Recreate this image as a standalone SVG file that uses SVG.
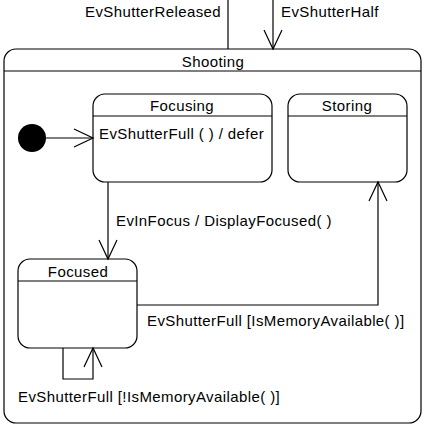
<svg xmlns="http://www.w3.org/2000/svg" width="425" height="426" viewBox="0 0 425 426">
<defs>
<style>
.st{fill:#fff;stroke:#000;stroke-width:1.2}
.ln{fill:none;stroke:#000;stroke-width:1.2}
text{font-family:"Liberation Sans",Arial,sans-serif;font-size:15px;letter-spacing:0.4px;fill:#000}
.c{text-anchor:middle}
</style>
<marker id="open" markerUnits="userSpaceOnUse" markerWidth="24" markerHeight="24" viewBox="-20 -12 22 24" refX="0" refY="0" orient="auto">
<path d="M-19,-9 L0,0 L-19,9" fill="none" stroke="#000" stroke-width="1.2"/>
</marker>
</defs>
<rect width="425" height="426" fill="#fff"/>
<g id="Shooting">
<rect class="st" x="4" y="49" width="417" height="374" rx="12" ry="12"/>
<line class="ln" x1="4" y1="71" x2="421" y2="71"/>
<text class="c" x="213" y="67">Shooting</text>
</g>
<g id="Initial">
<circle cx="32" cy="138" r="14" fill="#000"/>
</g>
<g id="Focusing">
<rect class="st" x="93" y="94" width="179" height="88" rx="12" ry="12"/>
<line class="ln" x1="93" y1="116" x2="272" y2="116"/>
<text class="c" x="182" y="111">Focusing</text>
<text x="99" y="139">EvShutterFull ( ) / defer</text>
</g>
<g id="Storing">
<rect class="st" x="288" y="94" width="119" height="88" rx="12" ry="12"/>
<line class="ln" x1="288" y1="116" x2="407" y2="116"/>
<text class="c" x="347" y="111">Storing</text>
</g>
<g id="Focused">
<rect class="st" x="18" y="259" width="119" height="89" rx="12" ry="12"/>
<line class="ln" x1="18" y1="281" x2="137" y2="281"/>
<text class="c" x="78" y="277">Focused</text>
</g>
<g id="connectors">
<line class="ln" x1="228" y1="0" x2="228" y2="49"/>
<text x="85" y="17">EvShutterReleased</text>
<line class="ln" x1="273" y1="0" x2="273" y2="49" marker-end="url(#open)"/>
<text x="281" y="17">EvShutterHalf</text>
<line class="ln" x1="46" y1="138" x2="93" y2="138" marker-end="url(#open)"/>
<line class="ln" x1="108" y1="182" x2="108" y2="259" marker-end="url(#open)"/>
<text x="116" y="226">EvInFocus / DisplayFocused( )</text>
<polyline class="ln" points="137,305 378,305 378,182" marker-end="url(#open)"/>
<text x="147" y="326">EvShutterFull [IsMemoryAvailable( )]</text>
<polyline class="ln" points="63,348 63,379 93,379 93,348" marker-end="url(#open)"/>
<text x="18" y="402">EvShutterFull [!IsMemoryAvailable( )]</text>
</g>
</svg>
